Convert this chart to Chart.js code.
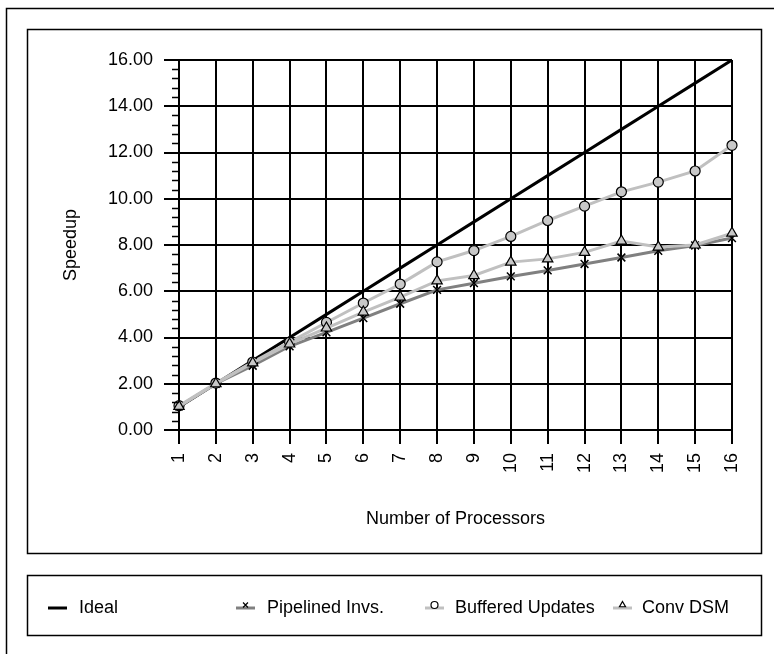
<!DOCTYPE html>
<html>
<head>
<meta charset="utf-8">
<title>Speedup vs. Number of Processors</title>
<script src="https://cdn.jsdelivr.net/npm/chart.js@4/dist/chart.umd.min.js"></script>
<style>
  html, body { margin: 0; padding: 0; background: #ffffff; }
  canvas { display: block; }
</style>
</head>
<body>
<canvas id="speedup" width="774" height="654"></canvas>
<script>
// Processor counts along the x axis
const processors = ['1','2','3','4','5','6','7','8','9','10','11','12','13','14','15','16'];

// Measured speedup per configuration
const ideal      = [1, 2, 3, 4, 5, 6, 7, 8, 9, 10, 11, 12, 13, 14, 15, 16];
const pipelined  = [1.02, 2.00, 2.78, 3.62, 4.22, 4.84, 5.46, 6.06, 6.35, 6.64, 6.90, 7.18, 7.46, 7.75, 7.98, 8.30];
const buffered   = [1.05, 2.03, 2.94, 3.80, 4.65, 5.49, 6.31, 7.27, 7.76, 8.37, 9.06, 9.68, 10.30, 10.72, 11.20, 12.31];
const convDSM    = [1.02, 2.00, 2.90, 3.72, 4.41, 5.10, 5.75, 6.45, 6.68, 7.26, 7.40, 7.68, 8.17, 7.91, 8.00, 8.51];

// Series names and y-axis tick values
const seriesNames = ['Ideal', 'Pipelined Invs.', 'Buffered Updates', 'Conv DSM'];
const yTickValues = [0, 2, 4, 6, 8, 10, 12, 14, 16];

const FONT = "'Liberation Sans', Arial, Helvetica, sans-serif";
const FONT_SIZE = 18;

// Frames around the plot region and the legend, plus the outer border
const framePlugin = {
  id: 'frames',
  beforeDraw(chart) {
    const ctx = chart.ctx;
    ctx.save();
    ctx.fillStyle = '#ffffff';
    ctx.fillRect(0, 0, chart.width, chart.height);
    ctx.strokeStyle = '#000000';
    ctx.lineWidth = 1.5;
    // outer border (left and top edges)
    ctx.beginPath();
    ctx.moveTo(6.5, chart.height);
    ctx.lineTo(6.5, 8.5);
    ctx.lineTo(chart.width, 8.5);
    ctx.stroke();
    // plot frame
    ctx.strokeRect(27.5, 29.5, 734, 524);
    // legend frame
    ctx.strokeRect(27.5, 575.5, 734, 60);
    ctx.restore();
  }
};

// Short minor ticks between the labelled y values
const minorTickPlugin = {
  id: 'minorTicks',
  afterDraw(chart) {
    const y = chart.scales.y;
    const left = chart.chartArea.left;
    const ctx = chart.ctx;
    ctx.save();
    ctx.strokeStyle = '#000000';
    ctx.lineWidth = 1.5;
    ctx.beginPath();
    for (let i = 0; i <= 40; i++) {
      if (i % 5 === 0) continue;
      const py = Math.round(y.getPixelForValue(i * 0.4)) + 0.5;
      ctx.moveTo(left - 7, py);
      ctx.lineTo(left, py);
    }
    ctx.stroke();
    ctx.restore();
  }
};

// Legend row laid out in fixed columns
const legendPlugin = {
  id: 'columnLegend',
  afterDraw(chart) {
    const ctx = chart.ctx;
    const cols = [
      { icon: 48, text: 79 },
      { icon: 236, text: 267 },
      { icon: 425, text: 455 },
      { icon: 613, text: 642 }
    ];
    const cy = 608;
    chart.data.datasets.forEach((ds, i) => {
      const c = cols[i];
      ctx.save();
      ctx.strokeStyle = ds.borderColor;
      ctx.lineWidth = 3;
      ctx.beginPath();
      ctx.moveTo(c.icon, cy);
      ctx.lineTo(c.icon + 19, cy);
      ctx.stroke();
      if (ds.pointStyle) {
        ctx.fillStyle = '#ffffff';
        ctx.strokeStyle = ds.pointBorderColor;
        ctx.lineWidth = 1.2;
        Chart.helpers.drawPoint(ctx, {
          pointStyle: ds.pointStyle,
          radius: 3.5,
          rotation: 0,
          borderWidth: 1.2
        }, c.icon + 9.5, cy - 3);
      }
      ctx.fillStyle = '#000000';
      ctx.font = FONT_SIZE + 'px ' + FONT;
      ctx.textAlign = 'left';
      ctx.textBaseline = 'middle';
      ctx.fillText(ds.label, c.text, cy);
      ctx.restore();
    });
  }
};

new Chart(document.getElementById('speedup'), {
  type: 'line',
  data: {
    labels: processors,
    datasets: [
      {
        label: seriesNames[0],
        data: ideal,
        borderColor: '#000000',
        borderWidth: 3,
        pointRadius: 0,
        pointStyle: false,
        order: 4
      },
      {
        label: seriesNames[1],
        data: pipelined,
        borderColor: '#808080',
        borderWidth: 3,
        pointStyle: 'crossRot',
        pointRadius: 5.5,
        pointBorderColor: '#000000',
        pointBackgroundColor: '#000000',
        pointBorderWidth: 1.5,
        order: 3
      },
      {
        label: seriesNames[2],
        data: buffered,
        borderColor: '#c0c0c0',
        borderWidth: 3,
        pointStyle: 'circle',
        pointRadius: 5,
        pointBorderColor: '#000000',
        pointBackgroundColor: '#c8c8c8',
        pointBorderWidth: 1.2,
        order: 2
      },
      {
        label: seriesNames[3],
        data: convDSM,
        borderColor: '#c0c0c0',
        borderWidth: 3,
        pointStyle: 'triangle',
        pointRadius: 6,
        pointBorderColor: '#000000',
        pointBackgroundColor: '#c8c8c8',
        pointBorderWidth: 1.2,
        order: 1
      }
    ]
  },
  options: {
    responsive: false,
    devicePixelRatio: 1,
    animation: false,
    clip: false,
    layout: { padding: { top: 60, right: 42, left: 0, bottom: 100 } },
    plugins: {
      legend: { display: false },
      tooltip: { enabled: false }
    },
    elements: { line: { tension: 0 } },
    scales: {
      x: {
        type: 'category',
        offset: false,
        afterFit(scale) { scale.height = 124; },
        border: { color: '#000000', width: 2 },
        grid: {
          color: '#000000',
          lineWidth: 2,
          tickLength: 14,
          tickColor: '#000000',
          tickWidth: 2
        },
        ticks: {
          color: '#000000',
          font: { family: FONT, size: FONT_SIZE },
          minRotation: 90,
          maxRotation: 90,
          autoSkip: false,
          padding: 9
        },
        title: {
          display: true,
          text: 'Number of Processors',
          color: '#000000',
          font: { family: FONT, size: FONT_SIZE },
          padding: { top: 0, bottom: 24 }
        }
      },
      y: {
        min: 0,
        max: 16,
        afterFit(scale) { scale.width = 179; },
        afterBuildTicks(scale) { scale.ticks = yTickValues.map(v => ({ value: v })); },
        border: { color: '#000000', width: 2 },
        grid: {
          color: '#000000',
          lineWidth: 2,
          tickLength: 15,
          tickColor: '#000000',
          tickWidth: 2
        },
        ticks: {
          color: '#000000',
          font: { family: FONT, size: FONT_SIZE },
          padding: 11,
          callback: (v) => Number(v).toFixed(2)
        },
        title: {
          display: true,
          text: 'Speedup',
          color: '#000000',
          font: { family: FONT, size: FONT_SIZE },
          padding: { top: 60, bottom: 0 }
        }
      }
    }
  },
  plugins: [framePlugin, minorTickPlugin, legendPlugin]
});
</script>
</body>
</html>
